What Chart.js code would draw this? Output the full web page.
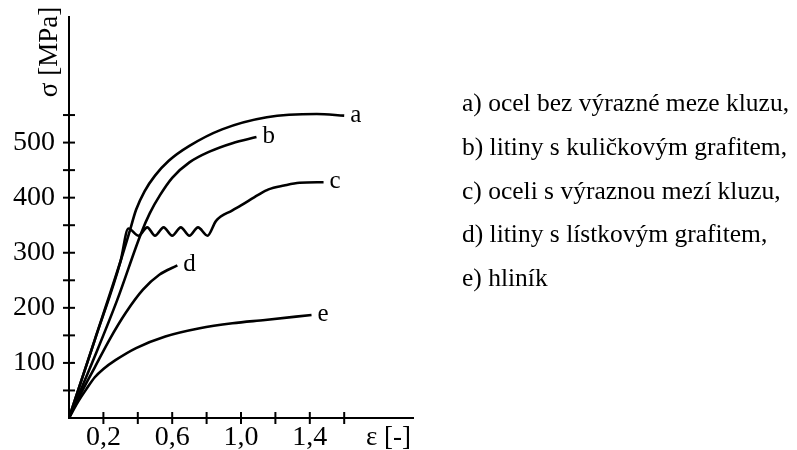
<!DOCTYPE html>
<html>
<head>
<meta charset="utf-8">
<script src="https://cdn.jsdelivr.net/npm/chart.js@4.4.0/dist/chart.umd.min.js"></script>
<style>
  html, body { margin: 0; padding: 0; background: #fff; }
</style>
</head>
<body>
<canvas id="chart" width="797" height="450"></canvas>
<script>
// curve names and the legend text on the right
const curveNames = ['a', 'b', 'c', 'd', 'e'];
const legendLines = [
  'a) ocel bez výrazné meze kluzu,',
  'b) litiny s kuličkovým grafitem,',
  'c) oceli s výraznou mezí kluzu,',
  'd) litiny s lístkovým grafitem,',
  'e) hliník'
];

// strain [-] and stress [MPa]
const strainA = [0, 0.15, 0.30, 0.35, 0.39, 0.44, 0.50, 0.58, 0.70, 0.89, 1.15, 1.44, 1.60];
const stressA = [0, 142, 285, 336, 378, 412, 440, 467, 494, 524, 546, 552, 549];

const strainB = [0, 0.15, 0.28, 0.42, 0.47, 0.53, 0.60, 0.70, 0.82, 0.95, 1.09];
const stressB = [0, 112, 214, 336, 372, 405, 436, 464, 484, 499, 510];

const strainC = [0, 0.15, 0.30, 0.345, 0.405, 0.455, 0.50, 0.55, 0.60, 0.65, 0.70, 0.75, 0.805,
  0.855, 0.95, 1.00, 1.10, 1.16, 1.25, 1.34, 1.48];
const stressC = [0, 142, 285, 344, 331, 346, 331, 346, 331, 346, 331, 346, 331,
  358, 377, 386, 405, 415, 422, 427, 428];

const strainD = [0, 0.08, 0.15, 0.235, 0.33, 0.43, 0.525, 0.63];
const stressD = [0, 51, 92, 142, 191, 233, 260, 277];

const strainE = [0, 0.05, 0.10, 0.15, 0.20, 0.27, 0.39, 0.56, 0.76, 0.95, 1.14, 1.41];
const stressE = [0, 28, 52, 74, 89, 105, 127, 148, 163, 172, 178, 187];

// axis ticks
const xTickValues = [0.2, 0.4, 0.6, 0.8, 1.0, 1.2, 1.4, 1.6];
const xTickLabels = ['0,2', '', '0,6', '', '1,0', '', '1,4', ''];
const yTickValues = [50, 100, 150, 200, 250, 300, 350, 400, 450, 500, 550];
const yTickLabels = ['', '100', '', '200', '', '300', '', '400', '', '500', ''];

const xTitle = 'ε [-]';
const yTitle = 'σ [MPa]';

const serif = '"Liberation Serif", "Times New Roman", serif';

const pairs = (xs, ys) => xs.map((v, i) => ({ x: v, y: ys[i] }));
const series = [
  pairs(strainA, stressA),
  pairs(strainB, stressB),
  pairs(strainC, stressC),
  pairs(strainD, stressD),
  pairs(strainE, stressE)
];

const noPadding = (s) => {
  s.paddingTop = 0;
  s.paddingBottom = 0;
  s.paddingLeft = 0;
  s.paddingRight = 0;
};

const extras = {
  id: 'extras',
  afterDraw(chart) {
    const { ctx, scales: { x, y } } = chart;
    ctx.save();
    ctx.strokeStyle = '#000';
    ctx.lineWidth = 2;
    // ticks crossing the axes
    xTickValues.forEach((v) => {
      const px = x.getPixelForValue(v);
      ctx.beginPath();
      ctx.moveTo(px, y.bottom - 6);
      ctx.lineTo(px, y.bottom + 6);
      ctx.stroke();
    });
    yTickValues.forEach((v) => {
      const py = y.getPixelForValue(v);
      ctx.beginPath();
      ctx.moveTo(x.left - 6, py);
      ctx.lineTo(x.left + 6, py);
      ctx.stroke();
    });

    ctx.fillStyle = '#000';
    // letters at the curve ends
    ctx.font = '25px ' + serif;
    ctx.textAlign = 'left';
    ctx.textBaseline = 'alphabetic';
    chart.data.datasets.forEach((ds, i) => {
      const last = ds.data[ds.data.length - 1];
      ctx.fillText(curveNames[i], x.getPixelForValue(last.x) + 6, y.getPixelForValue(last.y) + 6);
    });

    // axis titles
    ctx.font = '27px ' + serif;
    ctx.textBaseline = 'middle';
    ctx.fillText(xTitle, 366, 438);
    ctx.save();
    ctx.translate(50, 52);
    ctx.rotate(-Math.PI / 2);
    ctx.textAlign = 'center';
    ctx.fillText(yTitle, 0, 0);
    ctx.restore();

    // legend text
    ctx.font = '25.5px ' + serif;
    ctx.textBaseline = 'alphabetic';
    legendLines.forEach((t, i) => {
      ctx.fillText(t, 462, 111 + i * 43.75);
    });
    ctx.restore();
  }
};

new Chart(document.getElementById('chart'), {
  type: 'line',
  data: {
    datasets: series.map((d, i) => ({
      label: curveNames[i],
      data: d,
      borderColor: '#000',
      borderWidth: 2.6,
      pointRadius: 0,
      fill: false,
      cubicInterpolationMode: 'monotone'
    }))
  },
  options: {
    responsive: false,
    animation: false,
    layout: { padding: { left: 0, top: 17, right: 384, bottom: 0 } },
    plugins: {
      legend: { display: false },
      tooltip: { enabled: false }
    },
    scales: {
      x: {
        type: 'linear',
        min: 0,
        max: 2.0,
        afterBuildTicks: (s) => { s.ticks = xTickValues.map((v) => ({ value: v })); },
        afterFit: (s) => { s.height = 32; noPadding(s); },
        grid: { display: false, drawTicks: false },
        border: { display: true, color: '#000', width: 2 },
        ticks: {
          autoSkip: false,
          maxRotation: 0,
          padding: 3,
          color: '#000',
          font: { family: serif, size: 28 },
          callback: (v, i) => xTickLabels[i]
        }
      },
      y: {
        type: 'linear',
        min: 0,
        max: 728,
        afterBuildTicks: (s) => { s.ticks = yTickValues.map((v) => ({ value: v })); },
        afterFit: (s) => { s.width = 69; noPadding(s); },
        grid: { display: false, drawTicks: false },
        border: { display: true, color: '#000', width: 2 },
        ticks: {
          autoSkip: false,
          padding: 14,
          color: '#000',
          font: { family: serif, size: 28 },
          callback: (v, i) => yTickLabels[i]
        }
      }
    }
  },
  plugins: [extras]
});
</script>
</body>
</html>
